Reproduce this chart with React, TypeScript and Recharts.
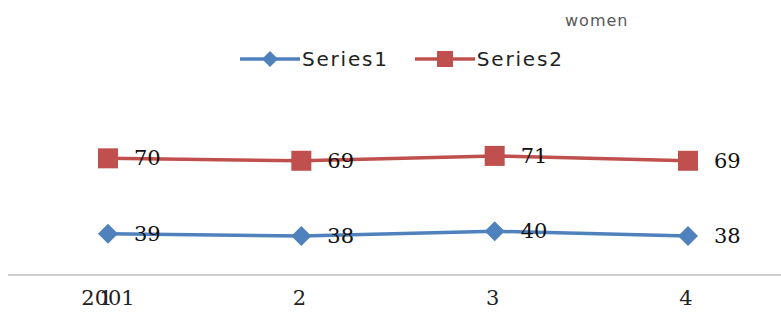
import React from 'react';
import { LineChart, Line, XAxis, YAxis } from 'recharts';

const categories = ['1', '2', '3', '4'];
const series1 = [39, 38, 40, 38];
const series2 = [70, 69, 71, 69];
const seriesNames = ['Series1', 'Series2'];
const subtitle = 'women';
const yearLabel = '2001';

const BLUE = '#4F81BD';
const RED = '#C0504D';
const LABEL_FONT = '"DejaVu Serif", "Liberation Serif", serif';
const SANS = '"DejaVu Sans", sans-serif';

const data = categories.map((c, i) => ({ cat: c, s1: series1[i], s2: series2[i] }));

const Diamond = (props: any) => {
  const { cx, cy } = props;
  if (cx == null || cy == null) return null;
  const r = 10;
  return <path d={`M${cx},${cy - r}L${cx + r},${cy}L${cx},${cy + r}L${cx - r},${cy}Z`} fill={BLUE} />;
};

const Square = (props: any) => {
  const { cx, cy } = props;
  if (cx == null || cy == null) return null;
  const r = 10;
  return <rect x={cx - r} y={cy - r} width={r * 2} height={r * 2} fill={RED} />;
};

const ValueLabel = (props: any) => {
  const { x, y, value } = props;
  return (
    <text x={x + 26} y={y} dominantBaseline="central" fontFamily={LABEL_FONT} fontSize={21} fill="#111">
      {value}
    </text>
  );
};

const CatTick = (props: any) => {
  const { x, y, payload, index } = props;
  return (
    <g>
      {index === 0 && (
        <text x={x} y={y + 22} textAnchor="middle" fontFamily={LABEL_FONT} fontSize={21} fill="#222">
          {yearLabel}
        </text>
      )}
      <text x={x - 2} y={y + 22} textAnchor="middle" fontFamily={LABEL_FONT} fontSize={21} fill="#222">
        {payload.value}
      </text>
    </g>
  );
};

const LegendBox = () => (
  <div style={{ position: 'absolute', left: 240, top: 47, display: 'flex', alignItems: 'center', fontFamily: SANS, fontSize: 20, color: '#222' }}>
    <svg width={62} height={20}>
      <line x1={0} y1={10} x2={60} y2={10} stroke={BLUE} strokeWidth={3.5} />
      <path d="M30,2L38,10L30,18L22,10Z" fill={BLUE} />
    </svg>
    <span style={{ letterSpacing: 1.8 }}>{seriesNames[0]}</span>
    <svg width={62} height={20} style={{ marginLeft: 26 }}>
      <line x1={0} y1={10} x2={60} y2={10} stroke={RED} strokeWidth={3.5} />
      <rect x={22} y={2} width={16} height={16} fill={RED} />
    </svg>
    <span style={{ letterSpacing: 1.8 }}>{seriesNames[1]}</span>
  </div>
);

export default function App() {
  return (
    <div style={{ position: 'absolute', left: 0, top: 0, width: 781, height: 326, background: '#fff' }}>
      <LineChart width={781} height={326} data={data} margin={{ top: 100, right: 0, bottom: 0, left: 8 }}>
        <XAxis
          dataKey="cat"
          height={51}
          padding={{ left: 100, right: 93 }}
          axisLine={{ stroke: '#BFBFBF', strokeWidth: 1.5 }}
          tickLine={false}
          tick={<CatTick />}
          interval={0}
        />
        <YAxis hide domain={[22, 94]} />
        <Line dataKey="s1" stroke={BLUE} strokeWidth={3.5} dot={<Diamond />} activeDot={false} label={<ValueLabel />} isAnimationActive={false} />
        <Line dataKey="s2" stroke={RED} strokeWidth={3.5} dot={<Square />} activeDot={false} label={<ValueLabel />} isAnimationActive={false} />
      </LineChart>
      <div style={{ position: 'absolute', left: 565, top: 11, fontFamily: SANS, fontSize: 16, color: '#595959', letterSpacing: 1 }}>
        {subtitle}
      </div>
      <LegendBox />
    </div>
  );
}
